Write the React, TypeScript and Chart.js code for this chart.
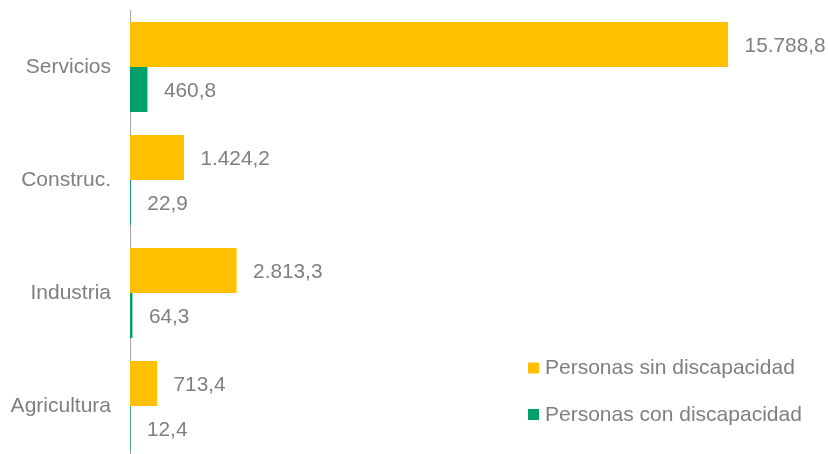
import React, { useEffect, useRef } from "react";
import { Chart, registerables } from "chart.js";

Chart.register(...registerables);

const categories = ["Servicios", "Construc.", "Industria", "Agricultura"];
const sinDiscapacidad = [15788.8, 1424.2, 2813.3, 713.4];
const conDiscapacidad = [460.8, 22.9, 64.3, 12.4];
const seriesLabels = ["Personas sin discapacidad", "Personas con discapacidad"];
const seriesColors = ["#FFC000", "#00A06B"];

const FONT = "'Liberation Sans', Arial, sans-serif";
const TEXT = "#7F7F7F";

function fmt(v: number): string {
  const [int, dec] = v.toFixed(1).split(".");
  const grouped = int.replace(/\B(?=(\d{3})+(?!\d))/g, ".");
  return grouped + "," + dec;
}

const valueLabels = {
  id: "valueLabels",
  afterDatasetsDraw(chart: any) {
    const ctx = chart.ctx;
    ctx.save();
    ctx.font = `20.8px ${FONT}`;
    ctx.fillStyle = TEXT;
    ctx.textAlign = "left";
    ctx.textBaseline = "middle";
    chart.data.datasets.forEach((ds: any, di: number) => {
      const meta = chart.getDatasetMeta(di);
      meta.data.forEach((bar: any, i: number) => {
        ctx.fillText(fmt(ds.data[i]), bar.x + 16.5, bar.y + 1.5);
      });
    });
    ctx.restore();
  },
};

const customLegend = {
  id: "customLegend",
  afterDraw(chart: any) {
    const ctx = chart.ctx;
    ctx.save();
    ctx.font = `21px ${FONT}`;
    ctx.textAlign = "left";
    ctx.textBaseline = "middle";
    const rows = [368, 414.5];
    chart.data.datasets.forEach((ds: any, di: number) => {
      const cy = rows[di];
      ctx.fillStyle = ds.backgroundColor;
      ctx.fillRect(528, cy - 5.5, 11, 11);
      ctx.fillStyle = TEXT;
      ctx.fillText(ds.label, 545, cy + 0.5);
    });
    ctx.restore();
  },
};

export default function App() {
  const ref = useRef<HTMLCanvasElement | null>(null);
  useEffect(() => {
    if (!ref.current) return;
    const chart = new Chart(ref.current, {
      type: "bar",
      data: {
        labels: categories,
        datasets: [
          { label: seriesLabels[0], data: sinDiscapacidad, backgroundColor: seriesColors[0] },
          { label: seriesLabels[1], data: conDiscapacidad, backgroundColor: seriesColors[1] },
        ],
      },
      options: {
        indexAxis: "y",
        responsive: false,
        animation: false,
        events: [],
        datasets: { bar: { categoryPercentage: 0.796, barPercentage: 1 } },
        layout: { padding: { top: 10.5, bottom: 3.5, right: 27.5, left: 0 } },
        plugins: { legend: { display: false }, tooltip: { enabled: false } },
        scales: {
          x: { display: false, min: 0, max: 17700 },
          y: {
            afterFit(scale: any) {
              scale.width = 130;
              scale.paddingTop = 0;
              scale.paddingBottom = 0;
            },
            grid: { display: true, color: "rgba(0,0,0,0)", drawTicks: false },
            border: { display: true, color: "#A6A6A6", width: 1 },
            ticks: { padding: 19, color: TEXT, font: { family: FONT, size: 21 } },
          },
        },
      } as any,
      plugins: [valueLabels, customLegend],
    });
    return () => chart.destroy();
  }, []);
  return (
    <div style={{ position: "fixed", top: 0, left: 0, width: 828, height: 466, background: "#fff" }}>
      <canvas ref={ref} width={828} height={466} style={{ display: "block" }} />
    </div>
  );
}
